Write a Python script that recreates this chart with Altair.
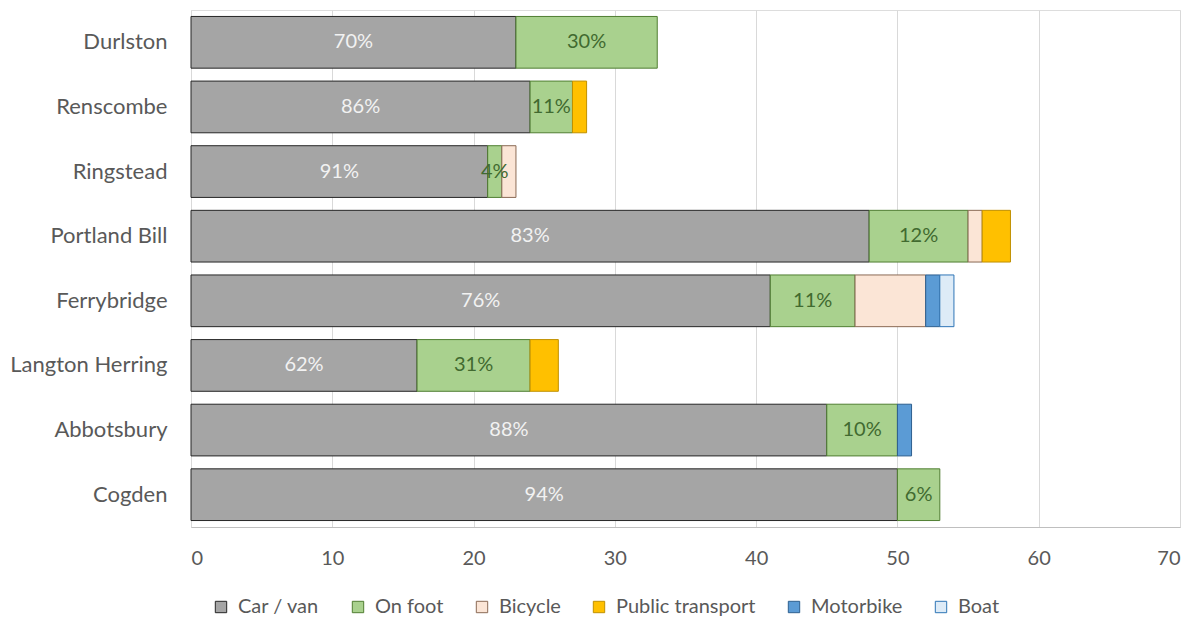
import altair as alt
import pandas as pd

sites = ["Durlston", "Renscombe", "Ringstead", "Portland Bill", "Ferrybridge",
         "Langton Herring", "Abbotsbury", "Cogden"]
modes = ["Car / van", "On foot", "Bicycle", "Public transport", "Motorbike", "Boat"]

car = [23, 24, 21, 48, 41, 16, 45, 50]
foot = [10, 3, 1, 7, 6, 8, 5, 3]
bicycle = [0, 0, 1, 1, 5, 0, 0, 0]
public = [0, 1, 0, 2, 0, 2, 0, 0]
motorbike = [0, 0, 0, 0, 1, 0, 1, 0]
boat = [0, 0, 0, 0, 1, 0, 0, 0]

fills = ["#a5a5a5", "#a9d18e", "#fbe5d6", "#ffc000", "#5b9bd5", "#ddebf7"]
strokes = ["#262626", "#507e32", "#8a6a55", "#c09000", "#2e5f8f", "#2e75b6"]

series = [car, foot, bicycle, public, motorbike, boat]
rows = []
for mi, (m, vals) in enumerate(zip(modes, series)):
    for s, v in zip(sites, vals):
        if v > 0:
            rows.append({"site": s, "mode": m, "value": v, "ord": mi})
df = pd.DataFrame(rows)

FONT = "Lato"

legend_kw = dict(title=None, orient="none", direction="horizontal",
                 legendX=20, legendY=587, symbolType="square",
                 symbolSize=130, symbolStrokeWidth=1,
                 labelFontSize=20, labelFont=FONT, labelColor="#595959",
                 columnPadding=28, labelOffset=7)

base = alt.Chart(df)

bars = base.mark_bar(strokeWidth=1).encode(
    y=alt.Y("site:N", sort=sites, title=None,
            scale=alt.Scale(paddingInner=0.2, paddingOuter=0.1),
            axis=alt.Axis(domain=False, ticks=False, tickSize=0, labelPadding=24,
                          labelFontSize=22, labelFont=FONT, labelColor="#595959",
                          grid=False)),
    x=alt.X("value:Q", stack="zero", title=None,
            scale=alt.Scale(domain=[0, 70], nice=False),
            axis=alt.Axis(values=[0, 10, 20, 30, 40, 50, 60, 70], ticks=False, tickSize=0,
                          labelPadding=21, labelFontSize=20, labelFont=FONT,
                          labelColor="#595959", grid=True, gridColor="#d9d9d9",
                          domain=True, domainColor="#bfbfbf")),
    fill=alt.Fill("mode:N", sort=modes, scale=alt.Scale(domain=modes, range=fills),
                  legend=alt.Legend(**legend_kw)),
    stroke=alt.Stroke("mode:N", sort=modes, scale=alt.Scale(domain=modes, range=strokes),
                      legend=alt.Legend(**legend_kw)),
    order=alt.Order("ord:Q", sort="ascending"),
)

labels = base.transform_joinaggregate(
    total="sum(value)", groupby=["site"]
).transform_stack(
    stack="value", as_=["x0", "x1"], groupby=["site"],
    sort=[alt.SortField("ord", order="ascending")]
).transform_calculate(
    mid="(datum.x0 + datum.x1) / 2",
    pct="format(datum.value / datum.total, '.0%')"
).transform_filter(
    "datum.ord < 2"
).mark_text(fontSize=20, font=FONT, align="center", baseline="middle").encode(
    x=alt.X("mid:Q"),
    y=alt.Y("site:N", sort=sites),
    text=alt.Text("pct:N"),
    color=alt.condition("datum.ord == 0", alt.value("#f2f2f2"), alt.value("#416a30")),
)

chart = alt.layer(bars, labels).properties(
    width=989, height=517,
    padding={"left": 183, "top": 2, "right": 12, "bottom": 90},
    autosize=alt.AutoSizeParams(type="none"),
).configure_view(stroke=None).configure(background="white")

chart.save("out.html", embed_options={"renderer": "svg", "actions": False})
